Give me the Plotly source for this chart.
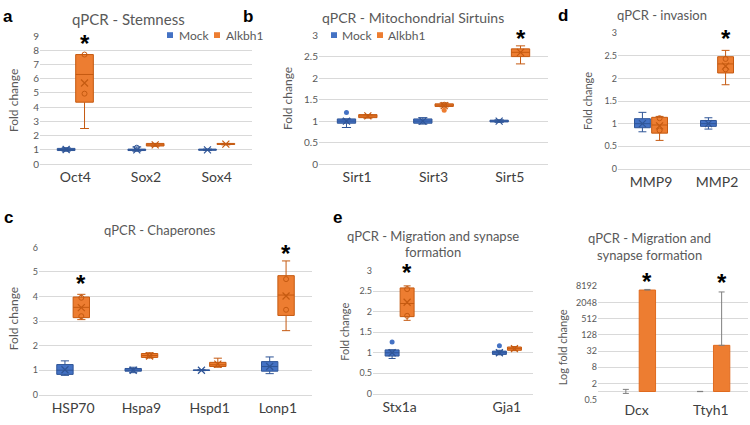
import math
import plotly.graph_objects as go

W, H = 750, 425
BLUE, BLUE_D = "#4472C4", "#2F5597"
ORANGE, ORANGE_D = "#ED7D31", "#C55A11"
GRID = "#D9D9D9"
FONT = "Lato"

# ---------------- data ----------------
# a: Stemness
a_cats = ["Oct4", "Sox2", "Sox4"]
a_mock = dict(lo=[0.9, 0.9, 0.95], q1=[0.95, 0.95, 0.97], med=[1.0, 1.0, 1.0], q3=[1.1, 1.05, 1.05], hi=[1.15, 1.2, 1.05], mean=[1.02, 1.0, 1.0])
a_alk = dict(lo=[2.5, 1.25, 1.35], q1=[4.35, 1.27, 1.38], med=[6.3, 1.35, 1.4], q3=[7.7, 1.45, 1.45], hi=[7.7, 1.45, 1.45], mean=[5.7, 1.35, 1.4])
a_mock_in = [(1, 1.15)]
a_alk_in = [(0, 7.7), (0, 4.95)]
a_mock_out = []
a_alk_out = []
a_star = [(0, 8.45)]

# b: Mitochondrial Sirtuins
b_cats = ["Sirt1", "Sirt3", "Sirt5"]
b_mock = dict(lo=[0.85, 0.93, 0.97], q1=[0.95, 0.95, 0.98], med=[1.0, 1.0, 1.0], q3=[1.05, 1.05, 1.02], hi=[1.05, 1.08, 1.03], mean=[1.0, 1.0, 1.0])
b_alk = dict(lo=[1.07, 1.33, 2.33], q1=[1.08, 1.34, 2.5], med=[1.12, 1.37, 2.6], q3=[1.15, 1.4, 2.68], hi=[1.15, 1.42, 2.75], mean=[1.12, 1.36, 2.6])
b_mock_in = []
b_alk_in = [(1, 1.38)]
b_mock_out = [(0, 1.2)]
b_alk_out = [(1, 1.25)]
b_star = [(2, 2.93)]

# d: invasion
d_cats = ["MMP9", "MMP2"]
d_mock = dict(lo=[0.82, 0.88], q1=[0.91, 0.94], med=[1.0, 1.0], q3=[1.11, 1.07], hi=[1.25, 1.13], mean=[1.0, 1.0])
d_alk = dict(lo=[0.63, 1.86], q1=[0.79, 2.12], med=[0.97, 2.32], q3=[1.14, 2.48], hi=[1.16, 2.62], mean=[0.95, 2.27])
d_mock_in = []
d_alk_in = [(0, 1.12), (0, 0.85), (1, 2.43), (1, 2.2)]
d_mock_out = []
d_alk_out = []
d_star = [(1, 2.89)]

# c: Chaperones
c_cats = ["HSP70", "Hspa9", "Hspd1", "Lonp1"]
c_mock = dict(lo=[0.79, 0.9, 0.98, 0.86], q1=[0.83, 0.96, 0.99, 0.96], med=[1.0, 1.0, 1.0, 1.15], q3=[1.23, 1.07, 1.01, 1.35], hi=[1.38, 1.12, 1.02, 1.54], mean=[1.02, 1.0, 1.0, 1.15])
c_alk = dict(lo=[3.06, 1.5, 1.12, 2.61], q1=[3.14, 1.52, 1.15, 3.23], med=[3.56, 1.6, 1.22, 4.06], q3=[3.98, 1.68, 1.32, 4.85], hi=[4.09, 1.71, 1.49, 5.45], mean=[3.55, 1.58, 1.25, 4.02])
c_mock_in = []
c_alk_in = [(0, 3.95), (0, 3.2), (1, 1.6), (3, 4.71), (3, 3.46)]
c_mock_out = []
c_alk_out = []
c_star = [(0, 4.54), (3, 5.77)]

# e: Migration and synapse formation
e_cats = ["Stx1a", "Gja1"]
e_mock = dict(lo=[0.86, 0.95], q1=[0.92, 0.96], med=[1.0, 1.0], q3=[1.07, 1.04], hi=[1.07, 1.06], mean=[1.0, 1.0])
e_alk = dict(lo=[1.79, 1.05], q1=[1.88, 1.06], med=[2.2, 1.1], q3=[2.58, 1.14], hi=[2.63, 1.15], mean=[2.23, 1.1])
e_mock_in = []
e_alk_in = [(0, 2.55), (0, 1.9)]
e_mock_out = [(0, 1.26), (1, 1.17)]
e_alk_out = []
e_star = [(0, 2.95)]

# f: Migration and synapse formation (log fold change, bars)
f_cats = ["Dcx", "Ttyh1"]
f_mock = [1.0, 1.0]
f_mock_err_lo = [0.15, 0.01]
f_mock_err_hi = [0.2, 0.01]
f_alk = [5900, 52]
f_alk_err_hi = [300, 4950]
f_ticks = [0.5, 2, 8, 32, 128, 512, 2048, 8192]
f_star = [(0, 12300), (1, 11000)]

GROUPS = ["Mock", "Alkbh1"]

# ---------------- helpers ----------------
def xdom(l, r):
    return [l / W, r / W]

def ydom(t, b):
    return [1 - b / H, 1 - t / H]

fig = go.Figure()
layout = {}
annotations = []
shapes = []

def add_axes(i, xpx, ypx, xr, yr, cats, ytick_size, cat_size, ytype="linear", yticks=None):
    xa = "xaxis" if i == 1 else f"xaxis{i}"
    ya = "yaxis" if i == 1 else f"yaxis{i}"
    layout[xa] = dict(domain=xdom(*xpx), range=xr, anchor=f"y{'' if i == 1 else i}",
                      tickvals=list(range(len(cats))), ticktext=cats, showgrid=False,
                      zeroline=False, showline=True, linecolor=GRID, linewidth=1, ticks="",
                      tickfont=dict(family=FONT, size=cat_size, color="#404040"), fixedrange=True)
    yd = dict(domain=ydom(*ypx), range=yr, anchor=f"x{'' if i == 1 else i}", type=ytype,
              showgrid=True, gridcolor=GRID, gridwidth=1, zeroline=False, showline=False, ticks="",
              tickfont=dict(family=FONT, size=ytick_size, color="#595959"), fixedrange=True)
    if yticks is not None:
        yd["tickvals"] = yticks
        yd["ticktext"] = [("%g" % v) for v in yticks]
    layout[ya] = yd

def add_boxes(i, cats, mock, alk, mock_in, alk_in, mock_out, alk_out, off, width):
    xref = "x" if i == 1 else f"x{i}"
    yref = "y" if i == 1 else f"y{i}"
    for stats, col, dcol, sgn, pin, pout in [(mock, BLUE, BLUE_D, -1, mock_in, mock_out),
                                             (alk, ORANGE, ORANGE_D, 1, alk_in, alk_out)]:
        xs = [k + sgn * off for k in range(len(cats))]
        fig.add_trace(go.Box(x=xs, q1=stats["q1"], median=stats["med"], q3=stats["q3"],
                             lowerfence=stats["lo"], upperfence=stats["hi"], width=width,
                             whiskerwidth=0.5, fillcolor=col, line=dict(color=dcol, width=1),
                             boxpoints=False, showlegend=False, xaxis=xref, yaxis=yref,
                             hoverinfo="skip"))
        fig.add_trace(go.Scatter(x=xs, y=stats["mean"], mode="markers", showlegend=False,
                                 marker=dict(symbol="x-thin", size=7, line=dict(color=dcol, width=1.2)),
                                 xaxis=xref, yaxis=yref, hoverinfo="skip"))
        if pin:
            fig.add_trace(go.Scatter(x=[p[0] + sgn * off for p in pin], y=[p[1] for p in pin],
                                     mode="markers", showlegend=False,
                                     marker=dict(symbol="circle-open", size=5, color=dcol, line=dict(width=1)),
                                     xaxis=xref, yaxis=yref, hoverinfo="skip"))
        if pout:
            fig.add_trace(go.Scatter(x=[p[0] + sgn * off for p in pout], y=[p[1] for p in pout],
                                     mode="markers", showlegend=False,
                                     marker=dict(symbol="circle", size=5, color=col),
                                     xaxis=xref, yaxis=yref, hoverinfo="skip"))

def add_stars(i, stars, off, yr):
    xref = "x" if i == 1 else f"x{i}"
    yref = ("y" if i == 1 else f"y{i}") + " domain"
    for k, v in stars:
        frac = (v - yr[0]) / (yr[1] - yr[0])
        annotations.append(dict(x=k + off, y=frac, xref=xref, yref=yref,
                                text="<b>*</b>", showarrow=False,
                                font=dict(family="Liberation Sans", size=24, color="black"),
                                yanchor="middle"))

# ---------------- panels ----------------
# a
a_yr = [0, 9]
add_axes(1, (40, 252), (30, 162), [-0.5, 2.5], a_yr, a_cats, 10, 14)
layout["yaxis"]["dtick"] = 1
add_boxes(1, a_cats, a_mock, a_alk, a_mock_in, a_alk_in, a_mock_out, a_alk_out, 0.13, 0.25)
add_stars(1, a_star, 0.13, a_yr)
# b
b_yr = [0, 3]
add_axes(2, (319, 548), (29, 162), [-0.5, 2.5], b_yr, b_cats, 10, 14)
layout["yaxis2"]["dtick"] = 0.5
add_boxes(2, b_cats, b_mock, b_alk, b_mock_in, b_alk_in, b_mock_out, b_alk_out, 0.14, 0.24)
add_stars(2, b_star, 0.14, b_yr)
# d
d_yr = [0, 3]
add_axes(3, (618, 750), (27, 167), [-0.5, 1.5], d_yr, d_cats, 9, 14)
layout["yaxis3"]["dtick"] = 0.5
add_boxes(3, d_cats, d_mock, d_alk, d_mock_in, d_alk_in, d_mock_out, d_alk_out, 0.13, 0.24)
add_stars(3, d_star, 0.13, d_yr)
# c
c_yr = [0, 6]
add_axes(4, (39, 312), (248, 400), [-0.5, 3.5], c_yr, c_cats, 9, 14)
layout["yaxis4"]["dtick"] = 1
add_boxes(4, c_cats, c_mock, c_alk, c_mock_in, c_alk_in, c_mock_out, c_alk_out, 0.12, 0.24)
add_stars(4, c_star, 0.12, c_yr)
# e
e_yr = [0, 3]
add_axes(5, (373, 533), (272, 399), [-0.248, 1.243], e_yr, e_cats, 9, 14)
layout["yaxis5"]["dtick"] = 0.5
add_boxes(5, e_cats, e_mock, e_alk, e_mock_in, e_alk_in, e_mock_out, e_alk_out, 0.07, 0.13)
add_stars(5, e_star, 0.07, e_yr)
# f
f_yr = [math.log10(0.5), math.log10(8192)]
add_axes(6, (598, 748), (288, 405), [-0.52, 1.5], f_yr, f_cats, 9, 14, ytype="log", yticks=f_ticks)
layout["xaxis6"]["showline"] = False
fx_m = [k - 0.145 for k in range(len(f_cats))]
fx_a = [k + 0.145 for k in range(len(f_cats))]
fig.add_trace(go.Bar(x=fx_m, y=[v - 1 for v in f_mock], base=[1] * len(f_mock), width=0.22,
                     marker=dict(color=BLUE, line=dict(width=0)), showlegend=False,
                     xaxis="x6", yaxis="y6", hoverinfo="skip"))
fig.add_trace(go.Bar(x=fx_a, y=[v - 1 for v in f_alk], base=[1] * len(f_alk), width=0.22,
                     marker=dict(color=ORANGE, line=dict(color="#E06A1E", width=1)), showlegend=False,
                     xaxis="x6", yaxis="y6", hoverinfo="skip"))
fig.add_trace(go.Scatter(x=fx_m, y=f_mock, mode="markers", marker=dict(size=0.1, color="rgba(0,0,0,0)"),
                         error_y=dict(type="data", array=f_mock_err_hi, arrayminus=f_mock_err_lo,
                                      color="#7F7F7F", thickness=1, width=3),
                         showlegend=False, xaxis="x6", yaxis="y6", hoverinfo="skip"))
fig.add_trace(go.Scatter(x=fx_a, y=f_alk, mode="markers", marker=dict(size=0.1, color="rgba(0,0,0,0)"),
                         error_y=dict(type="data", array=f_alk_err_hi, arrayminus=[0, 0],
                                      color="#7F7F7F", thickness=1, width=3),
                         showlegend=False, xaxis="x6", yaxis="y6", hoverinfo="skip"))
shapes.append(dict(type="line", xref="x6 domain", yref="y6", x0=0, x1=1, y0=1, y1=1,
                   line=dict(color=GRID, width=1), layer="below"))
f_star_log = [(k, math.log10(v)) for k, v in f_star]
add_stars(6, f_star_log, 0.145, f_yr)

# ---------------- text helpers ----------------
def ptext(x, y, text, size, color="#595959", family=FONT, angle=0, xanchor="center"):
    annotations.append(dict(x=x / W, y=1 - y / H, xref="paper", yref="paper", text=text,
                            showarrow=False, xanchor=xanchor, yanchor="middle", textangle=angle,
                            font=dict(family=family, size=size, color=color)))

def prect(x0, y0, x1, y1, color, layer="above"):
    shapes.append(dict(type="rect", xref="paper", yref="paper", x0=x0 / W, x1=x1 / W,
                       y0=1 - y1 / H, y1=1 - y0 / H, fillcolor=color, line=dict(width=0), layer=layer))

# legends (keys + labels)
for bg, keys in [((162, 22, 258, 36), [(167, 178, 0), (214, 225, 1)]),
                 ((326, 22, 424, 36), [(331, 341, 0), (377, 387, 1)])]:
    prect(*bg, "white")
    for sx, tx, gi in keys:
        prect(sx, 26, sx + 6, 32, [BLUE, ORANGE][gi])
        ptext(tx - 1, 29, GROUPS[gi], 12, xanchor="left")

# titles
ptext(128, 12, "qPCR - Stemness", 15)
ptext(413, 11, "qPCR - Mitochondrial Sirtuins", 14)
ptext(662, 8, "qPCR - invasion", 13)
ptext(160, 230, "qPCR - Chaperones", 13)
ptext(433, 236, "qPCR - Migration and synapse", 13)
ptext(433, 253, "formation", 13)
ptext(649, 238, "qPCR - Migration and", 13)
ptext(649, 256, "synapse formation", 13)

# y-axis titles
ptext(13, 97, "Fold change", 12, angle=-90)
ptext(287, 95, "Fold change", 12, angle=-90)
ptext(587, 97, "Fold change", 11, angle=-90)
ptext(13, 322, "Fold change", 12, angle=-90)
ptext(345, 335, "Fold change", 11, angle=-90)
ptext(562, 351, "Log fold change", 11, angle=-90)

# panel letters
for x, y, t in [(8, 10, "a"), (248, 10, "b"), (563, 9, "d"), (8, 217, "c"), (337, 217, "e")]:
    ptext(x, y, "<b>%s</b>" % t, 17, color="black", family="Liberation Sans")

layout["annotations"] = annotations
layout["shapes"] = shapes
fig.update_layout(**layout)
fig.update_layout(width=W, height=H, margin=dict(l=0, r=0, t=0, b=0), plot_bgcolor="white",
                  paper_bgcolor="white", boxmode="overlay", barmode="overlay", bargap=0,
                  font=dict(family=FONT), hovermode=False, showlegend=False)

fig.write_html("out.html", config={"displayModeBar": False, "staticPlot": True},
               post_script="document.body.style.margin='0';")
